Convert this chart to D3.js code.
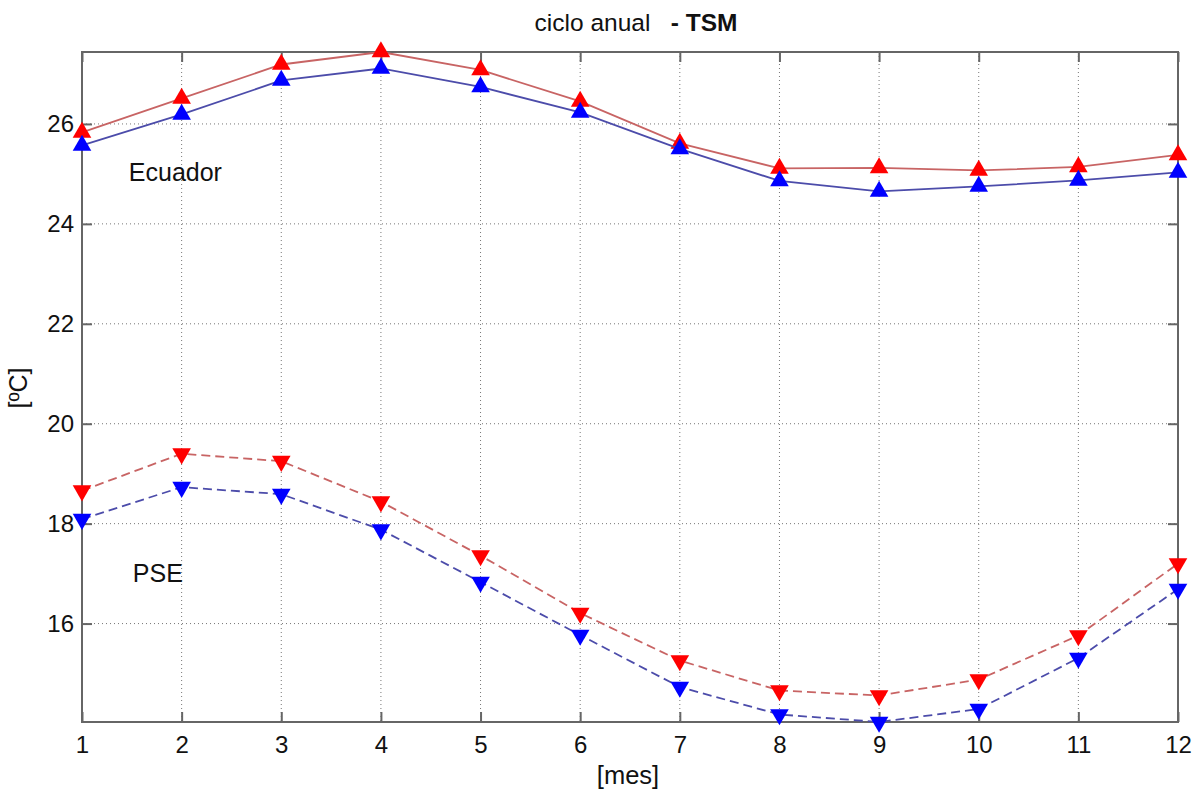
<!DOCTYPE html>
<html>
<head>
<meta charset="utf-8">
<script src="https://cdn.jsdelivr.net/npm/d3@7"></script>
<style>
  body { margin: 0; background: #fff; }
  text { font-family: Arial, "Liberation Sans", sans-serif; fill: #111; }
</style>
</head>
<body>
<div id="chart-area"></div>
<script>
// data
var months = [1, 2, 3, 4, 5, 6, 7, 8, 9, 10, 11, 12];
var ecuadorRed  = [25.83, 26.51, 27.19, 27.44, 27.08, 26.45, 25.61, 25.11, 25.12, 25.07, 25.14, 25.38];
var ecuadorBlue = [25.57, 26.19, 26.87, 27.11, 26.74, 26.23, 25.50, 24.86, 24.65, 24.75, 24.87, 25.03];
var pseRed  = [18.66, 19.40, 19.25, 18.44, 17.36, 16.21, 15.26, 14.66, 14.56, 14.88, 15.76, 17.20];
var pseBlue = [18.09, 18.73, 18.59, 17.88, 16.83, 15.77, 14.73, 14.18, 14.03, 14.29, 15.31, 16.69];
var yTicks = [16, 18, 20, 22, 24, 26];

//margins
var margin = { left: 82, right: 24, top: 52, bottom: 72 };
var width = 1202 - margin.left - margin.right;
var height = 794 - margin.top - margin.bottom;

var svg = d3.select("#chart-area").append("svg")
  .attr("width", 1202)
  .attr("height", 794);

var g = svg.append("g")
  .attr("transform", "translate(" + margin.left + "," + margin.top + ")");

var x = d3.scaleLinear().domain([1, 12]).range([0, width]);
var y = d3.scaleLinear().domain([14.03, 27.44]).range([height, 0]);

// grid
g.append("g").selectAll("line").data(months.slice(1, -1)).join("line")
  .attr("x1", d => x(d)).attr("x2", d => x(d))
  .attr("y1", 0).attr("y2", height)
  .attr("stroke", "#777").attr("stroke-width", 1).attr("stroke-dasharray", "1,3");
g.append("g").selectAll("line").data(yTicks).join("line")
  .attr("x1", 0).attr("x2", width)
  .attr("y1", d => y(d)).attr("y2", d => y(d))
  .attr("stroke", "#777").attr("stroke-width", 1).attr("stroke-dasharray", "1,3");

// axes (ticks pointing in, mirrored on top/right)
var axisColor = "#666";
function styleAxis(sel) {
  sel.select(".domain").remove();
  sel.selectAll(".tick line").attr("stroke", axisColor).attr("stroke-width", 2);
  sel.selectAll(".tick text").attr("font-size", 24).attr("fill", "#111")
    .style("font-family", "Arial, 'Liberation Sans', sans-serif");
}
g.append("g").attr("transform", "translate(0," + height + ")")
  .call(d3.axisBottom(x).tickValues(months).tickSizeInner(-10).tickSizeOuter(0).tickPadding(14))
  .call(styleAxis);
g.append("g")
  .call(d3.axisTop(x).tickValues(months).tickSizeInner(-10).tickSizeOuter(0).tickFormat(""))
  .call(styleAxis);
g.append("g")
  .call(d3.axisLeft(y).tickValues(yTicks).tickSizeInner(-10).tickSizeOuter(0).tickPadding(8))
  .call(styleAxis);
g.append("g").attr("transform", "translate(" + width + ",0)")
  .call(d3.axisRight(y).tickValues(yTicks).tickSizeInner(-10).tickSizeOuter(0).tickFormat(""))
  .call(styleAxis);

g.append("rect")
  .attr("width", width).attr("height", height)
  .attr("fill", "none").attr("stroke", axisColor).attr("stroke-width", 2);

// series
var line = d3.line().x((d, i) => x(months[i])).y(d => y(d));
var series = [
  { values: ecuadorRed,  line: "#c86464", marker: "#ff0000", dash: null, up: true },
  { values: ecuadorBlue, line: "#4c4caa", marker: "#0000ff", dash: null, up: true },
  { values: pseRed,  line: "#c86464", marker: "#ff0000", dash: "9,5", up: false },
  { values: pseBlue, line: "#4c4caa", marker: "#0000ff", dash: "9,5", up: false }
];

var tri = d3.symbol().type(d3.symbolTriangle).size(150);

series.forEach(s => {
  g.append("path")
    .attr("d", line(s.values))
    .attr("fill", "none")
    .attr("stroke", s.line)
    .attr("stroke-width", 1.8)
    .attr("stroke-dasharray", s.dash);
  g.append("g").selectAll("path").data(s.values).join("path")
    .attr("d", tri)
    .attr("transform", (d, i) => "translate(" + x(months[i]) + "," + y(d) + ")" + (s.up ? "" : " rotate(180)"))
    .attr("fill", s.marker);
});

// labels
g.append("text").attr("x", x(1.47)).attr("y", y(24.85))
  .attr("font-size", 25).text("Ecuador");
g.append("text").attr("x", x(1.51)).attr("y", y(16.84))
  .attr("font-size", 25).text("PSE");

// title
var title = svg.append("text").attr("x", 636).attr("y", 31)
  .attr("text-anchor", "middle").attr("font-size", 24.5);
title.append("tspan").text("ciclo anual   ").style("white-space", "pre");
title.append("tspan").attr("font-weight", "bold").text("- TSM");

// axis labels
svg.append("text").attr("x", 628).attr("y", 784)
  .attr("text-anchor", "middle").attr("font-size", 25.5).text("[mes]");
svg.append("text")
  .attr("transform", "translate(27,388) rotate(-90)")
  .attr("text-anchor", "middle").attr("font-size", 25).text("[ºC]");
</script>
</body>
</html>
